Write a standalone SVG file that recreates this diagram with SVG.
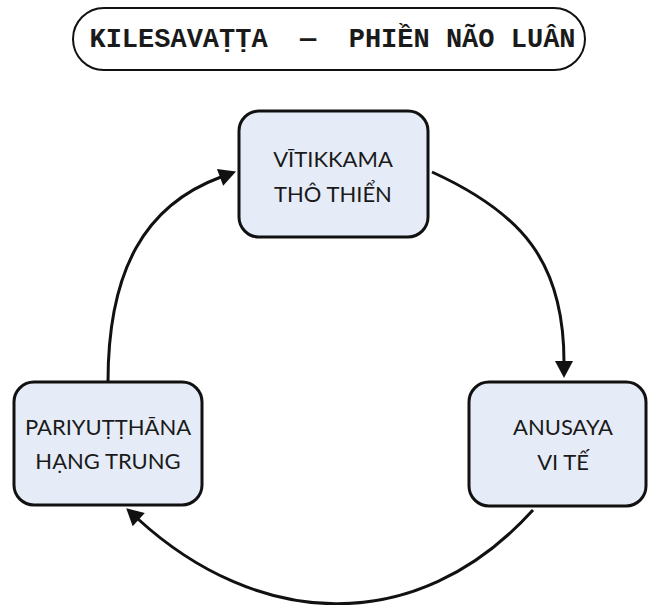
<svg xmlns="http://www.w3.org/2000/svg" width="651" height="605" viewBox="0 0 651 605">
  <style>
    .node rect { fill: #e6ecf7; stroke: #111; stroke-width: 3; }
    .node text { font-family: Lato, "Open Sans", "Noto Sans", sans-serif; font-size: 22px; fill: #1a1a1a; text-anchor: middle; }
    .title rect { fill: #fff; stroke: #111; stroke-width: 2; }
    .title text { font-family: "Liberation Mono", "DejaVu Sans Mono", monospace; font-weight: bold; font-size: 27px; fill: #1a1a1a; text-anchor: middle; }
    .edge { fill: none; stroke: #111; stroke-width: 3; marker-end: url(#head); }
  </style>
  <defs>
    <marker id="head" markerUnits="userSpaceOnUse" markerWidth="20" markerHeight="20" viewBox="0 -10 18 20" refX="1" refY="0" orient="auto">
      <path d="M0,-9 L17,0 L0,9 Z" fill="#111"/>
    </marker>
  </defs>

  <g id="title" class="title">
    <rect x="73" y="8" width="512" height="62" rx="31" ry="31"/>
    <text x="332.5" y="47" xml:space="preserve">KILESAVAṬṬA  —  PHIỀN NÃO LUÂN</text>
  </g>

  <g id="connectors">
    <!-- Vītikkama -> Anusaya -->
    <path class="edge" d="M432,172 C522,213 564,262 564,362"/>
    <!-- Anusaya -> Pariyuṭṭhāna -->
    <path class="edge" d="M533,510 C415,640 256,627 138,519"/>
    <!-- Pariyuṭṭhāna -> Vītikkama -->
    <path class="edge" d="M108,382 C108,270 145,205 221,177"/>
  </g>

  <g id="vitikkama" class="node">
    <rect x="239" y="111" width="189" height="126" rx="20" ry="20"/>
    <text x="333" y="167">VĪTIKKAMA</text>
    <text x="333" y="202">THÔ THIỂN</text>
  </g>

  <g id="pariyutthana" class="node">
    <rect x="14" y="382" width="188" height="123" rx="20" ry="20"/>
    <text x="108" y="435">PARIYUṬṬHĀNA</text>
    <text x="108" y="469">HẠNG TRUNG</text>
  </g>

  <g id="anusaya" class="node">
    <rect x="469" y="382" width="177" height="124" rx="20" ry="20"/>
    <text x="563" y="435">ANUSAYA</text>
    <text x="563" y="470">VI TẾ</text>
  </g>
</svg>
